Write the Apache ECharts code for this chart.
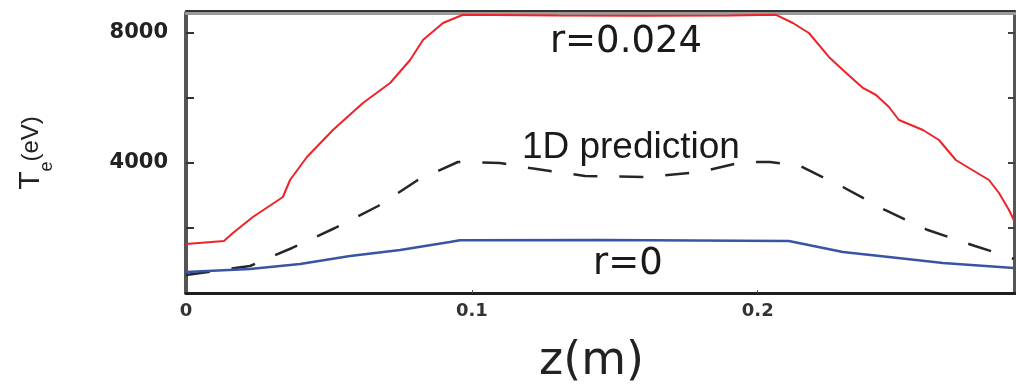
<!DOCTYPE html>
<html><head><meta charset="utf-8">
<script src="https://cdn.jsdelivr.net/npm/echarts@6/dist/echarts.min.js"></script>
<style>html,body{margin:0;padding:0;background:#fff}#c{width:1016px;height:386px}</style>
</head><body><div id="c"></div>
<script>
// r = 0.024 (red)
const redZ  = [0, 0.0133, 0.0164, 0.0234, 0.0339, 0.0364, 0.0423, 0.0514, 0.0619, 0.0714, 0.0784, 0.0829, 0.0899, 0.0969, 0.13, 0.16, 0.19, 0.2064, 0.2123, 0.2179, 0.2249, 0.2298, 0.2368, 0.2414, 0.2459, 0.2494, 0.2578, 0.2634, 0.2693, 0.2739, 0.2809, 0.2844, 0.2879, 0.2896];
const redTe = [1508, 1600, 1846, 2338, 2954, 3477, 4185, 5015, 5846, 6462, 7169, 7785, 8308, 8560, 8540, 8530, 8540, 8560, 8308, 8000, 7262, 6862, 6308, 6092, 5723, 5323, 5015, 4708, 4092, 3846, 3477, 3077, 2554, 2246];
// r = 0 (blue)
const blueZ  = [0, 0.0224, 0.0399, 0.0574, 0.0749, 0.0923, 0.0958, 0.1448, 0.2109, 0.2298, 0.2459, 0.2648, 0.2896];
const blueTe = [646, 738, 892, 1138, 1323, 1569, 1620, 1630, 1600, 1262, 1108, 923, 769];
// 1D prediction (dashed)
const predZ  = [0, 0.0224, 0.0371, 0.0521, 0.0672, 0.0811, 0.0951, 0.1098, 0.1203, 0.1396, 0.1605, 0.1798, 0.1948, 0.2043, 0.2148, 0.2298, 0.2445, 0.2595, 0.2760, 0.2826, 0.2896];
const predTe = [554, 831, 1385, 2000, 2677, 3477, 4031, 4000, 3846, 3600, 3569, 3723, 4031, 4031, 3908, 3262, 2554, 1938, 1446, 1262, 1050];

const xLabelValues = [0, 0.1, 0.2];
const xLabelTexts  = ['0', '0.1', '0.2'];
const xTickValues  = [0.1, 0.2];
const yTickValues  = [2000, 4000, 6000, 8000];
const yLabelValues = [4000, 8000];
const yLabelTexts  = ['4000', '8000'];

const annotations = [
  { text: 'r=0.024',       z: 0.1273, te: 7723 },
  { text: '1D prediction', z: 0.1175, te: 4477 },
  { text: 'r=0',           z: 0.1424, te: 892 }
];
const annotationFonts = ['37px "DejaVu Sans"', '37px "Liberation Sans"', '37px "DejaVu Sans"'];

const pairs = (xs, ys) => xs.map((x, i) => [x, ys[i]]);
const chart = echarts.init(document.getElementById('c'), null, { renderer: 'canvas' });

const X_MAX = 0.29, Y_MAX = 8615;
const option = {
  animation: false,
  backgroundColor: '#fff',
  grid: { left: 186, right: 1, top: 13, bottom: 93, show: false, containLabel: false, outerBoundsMode: 'none' },
  xAxis: [
    {
      type: 'value', min: 0, max: X_MAX, position: 'bottom',
      axisLine: { show: true, onZero: false, lineStyle: { color: '#1e1e1e', width: 3 } },
      axisTick: { show: true, inside: true, length: 3, customValues: xTickValues, lineStyle: { color: '#555', width: 1 } },
      axisLabel: {
        customValues: xLabelValues,
        formatter: v => { const i = xLabelValues.findIndex(t => Math.abs(t - v) < 1e-9); return i >= 0 ? xLabelTexts[i] : ''; },
        fontSize: 18, fontWeight: 'bold', fontFamily: 'DejaVu Sans', color: '#333', margin: 9
      },
      splitLine: { show: false },
      name: 'z(m)', nameLocation: 'middle', nameGap: 46,
      nameTextStyle: { fontSize: 46, fontFamily: 'DejaVu Sans', color: '#222', padding: [0, 18, 0, 0] }
    },
    {
      type: 'value', min: 0, max: X_MAX, position: 'top',
      axisLine: { show: true, onZero: false, lineStyle: { color: '#9a9a9a', width: 3 } },
      axisTick: { show: false }, axisLabel: { show: false }, splitLine: { show: false }
    },
    {
      type: 'value', min: 0, max: X_MAX, position: 'top', offset: 2,
      axisLine: { show: true, onZero: false, lineStyle: { color: '#333', width: 2 } },
      axisTick: { show: false }, axisLabel: { show: false }, splitLine: { show: false }
    }
  ],
  yAxis: [
    {
      type: 'value', min: 0, max: Y_MAX, position: 'left',
      axisLine: { show: true, onZero: false, lineStyle: { color: '#555', width: 4 } },
      axisTick: { show: true, inside: true, length: 8, customValues: yTickValues, lineStyle: { color: '#333', width: 2 } },
      axisLabel: {
        customValues: yLabelValues,
        formatter: v => { const i = yLabelValues.indexOf(v); return i >= 0 ? yLabelTexts[i] : ''; },
        fontSize: 21, fontWeight: 'bold', fontFamily: 'DejaVu Sans', color: '#222', margin: 18
      },
      splitLine: { show: false },
      name: '{t|T}{s|e}{u|(eV)}', nameLocation: 'middle', nameRotate: 90, nameGap: 130,
      nameTextStyle: {
        rich: {
          t: { fontSize: 30, fontFamily: 'Liberation Sans', color: '#222', lineHeight: 50, verticalAlign: 'middle' },
          s: { fontSize: 18, fontFamily: 'Liberation Sans', color: '#222', lineHeight: 18, verticalAlign: 'bottom' },
          u: { fontSize: 24, fontFamily: 'Liberation Sans', color: '#222', lineHeight: 50, verticalAlign: 'middle' }
        }
      }
    },
    {
      type: 'value', min: 0, max: Y_MAX, position: 'right',
      axisLine: { show: true, onZero: false, lineStyle: { color: '#555', width: 4 } },
      axisTick: { show: true, inside: true, length: 7, customValues: yTickValues, lineStyle: { color: '#444', width: 2 } },
      axisLabel: { show: false }, splitLine: { show: false }
    }
  ],
  series: [
    {
      name: '1D prediction', type: 'line', data: pairs(predZ, predTe), showSymbol: false, z: 2,
      lineStyle: { color: '#262626', width: 2.5, type: [24, 22] }
    },
    {
      name: 'r=0', type: 'line', data: pairs(blueZ, blueTe), showSymbol: false, z: 3,
      lineStyle: { color: '#3a54a4', width: 2.5 }
    },
    {
      name: 'r=0.024', type: 'line', data: pairs(redZ, redTe), showSymbol: false, z: 3,
      lineStyle: { color: '#ee2228', width: 2 }
    }
  ]
};
chart.setOption(option);

const graphic = annotations.map((a, i) => {
  const p = chart.convertToPixel({ gridIndex: 0 }, [a.z, a.te]);
  return {
    type: 'text', x: p[0], y: p[1], z: 10,
    style: { text: a.text, font: annotationFonts[i], fill: '#1a1a1a', textAlign: 'left', textVerticalAlign: 'middle' }
  };
});
chart.setOption({ graphic: graphic });
</script>
</body></html>
